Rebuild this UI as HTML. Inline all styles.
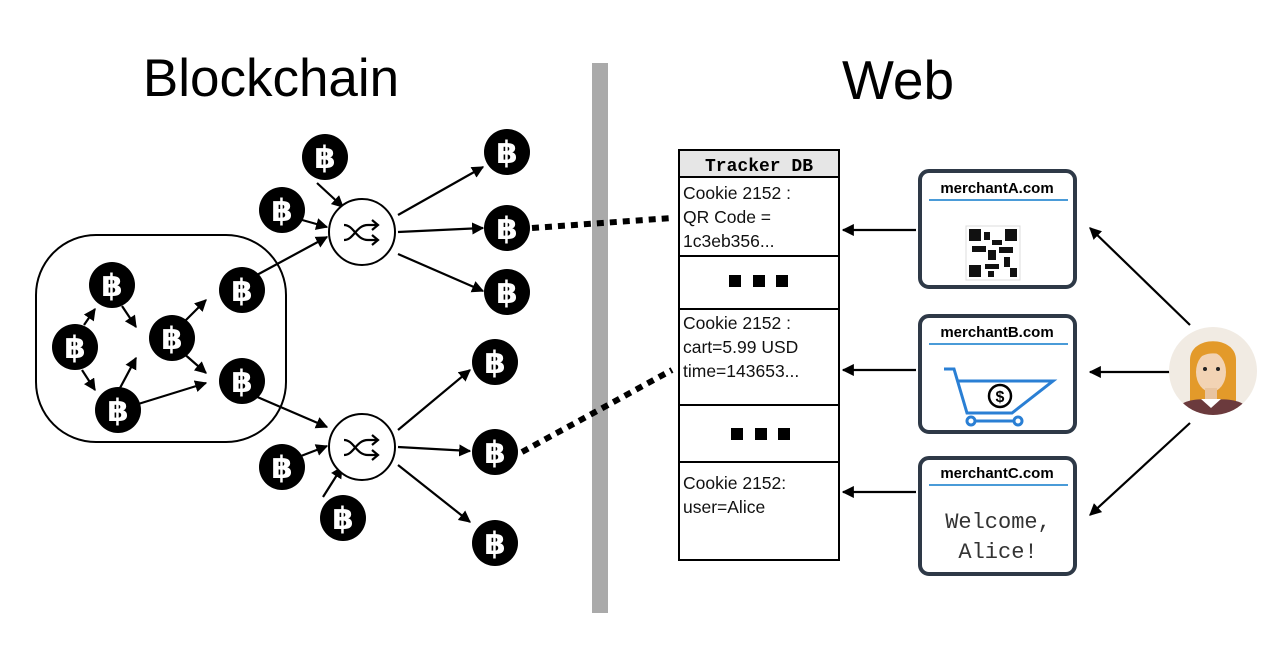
<!DOCTYPE html>
<html><head><meta charset="utf-8"><style>body{margin:0;background:#fff}svg{display:block}</style></head><body>
<svg width="1280" height="645" viewBox="0 0 1280 645" xmlns="http://www.w3.org/2000/svg" font-family="Liberation Sans, sans-serif">
<defs>
<marker id="a" viewBox="0 0 10 10" refX="9" refY="5" markerWidth="5.5" markerHeight="5.5" orient="auto"><path d="M0,0L10,5L0,10z" fill="#000"/></marker>
<g id="b"><circle r="23" fill="#000"/><text y="11" text-anchor="middle" font-family="DejaVu Sans" font-weight="bold" font-size="31" fill="#fff">฿</text></g>
<g id="m"><circle r="33" fill="#fff" stroke="#000" stroke-width="2"/><path d="M-18,-7 C-8,-7 -6,8 6,8 L15,8 M-18,8 C-8,8 -6,-7 6,-7 L15,-7 M10,-12 L16,-7 L10,-2 M10,3 L16,8 L10,13" fill="none" stroke="#000" stroke-width="2.2"/></g>
</defs>
<text x="271" y="96" text-anchor="middle" font-size="53">Blockchain</text>
<text x="898" y="99" text-anchor="middle" font-size="55">Web</text>
<rect x="592" y="63" width="16" height="550" fill="#aaa"/>
<rect x="36" y="235" width="250" height="207" rx="60" fill="none" stroke="#000" stroke-width="2"/>
<g stroke="#000" stroke-width="2.2" marker-end="url(#a)">
<line x1="84" y1="325" x2="95" y2="309"/>
<line x1="122" y1="306" x2="136" y2="327"/>
<line x1="82" y1="370" x2="95" y2="390"/>
<line x1="120" y1="388" x2="136" y2="358"/>
<line x1="182" y1="324" x2="206" y2="300"/>
<line x1="182" y1="352" x2="206" y2="373"/>
<line x1="135" y1="405" x2="206" y2="383"/>
<line x1="255" y1="276" x2="327" y2="237"/>
<line x1="255" y1="396" x2="327" y2="427"/>
<line x1="317" y1="183" x2="343" y2="207"/>
<line x1="288" y1="216" x2="327" y2="227"/>
<line x1="398" y1="215" x2="483" y2="167"/>
<line x1="398" y1="232" x2="483" y2="228"/>
<line x1="398" y1="254" x2="483" y2="291"/>
<line x1="288" y1="461" x2="327" y2="446"/>
<line x1="323" y1="497" x2="342" y2="467"/>
<line x1="398" y1="430" x2="470" y2="370"/>
<line x1="398" y1="447" x2="470" y2="451"/>
<line x1="398" y1="465" x2="470" y2="522"/>
<line x1="916" y1="230" x2="843" y2="230"/>
<line x1="916" y1="370" x2="843" y2="370"/>
<line x1="916" y1="492" x2="843" y2="492"/>
<line x1="1190" y1="325" x2="1090" y2="228"/>
<line x1="1172" y1="372" x2="1090" y2="372"/>
<line x1="1190" y1="423" x2="1090" y2="515"/>
</g>
<g stroke="#000" stroke-width="6" stroke-dasharray="7,6">
<line x1="532" y1="228" x2="672" y2="218"/>
<line x1="522" y1="452" x2="672" y2="370"/>
</g>
<use href="#b" x="112" y="285"/><use href="#b" x="75" y="347"/><use href="#b" x="172" y="338"/>
<use href="#b" x="242" y="290"/><use href="#b" x="242" y="381"/><use href="#b" x="118" y="410"/>
<use href="#b" x="325" y="157"/><use href="#b" x="282" y="210"/>
<use href="#b" x="507" y="152"/><use href="#b" x="507" y="228"/><use href="#b" x="507" y="292"/>
<use href="#b" x="282" y="467"/><use href="#b" x="343" y="518"/>
<use href="#b" x="495" y="362"/><use href="#b" x="495" y="452"/><use href="#b" x="495" y="543"/>
<use href="#m" x="362" y="232"/><use href="#m" x="362" y="447"/>
<g stroke="#000" stroke-width="2">
<rect x="679" y="150" width="160" height="410" fill="#fff"/>
<rect x="679" y="150" width="160" height="27" fill="#e6e6e6"/>
<line x1="679" y1="256" x2="839" y2="256"/><line x1="679" y1="309" x2="839" y2="309"/>
<line x1="679" y1="405" x2="839" y2="405"/><line x1="679" y1="462" x2="839" y2="462"/>
</g>
<text x="759" y="171" text-anchor="middle" font-family="Liberation Mono" font-weight="bold" font-size="18">Tracker DB</text>
<g font-size="17.5" fill="#111">
<text x="683" y="199">Cookie 2152 :</text><text x="683" y="223">QR Code =</text><text x="683" y="247">1c3eb356...</text>
<text x="683" y="329">Cookie 2152 :</text><text x="683" y="353">cart=5.99 USD</text><text x="683" y="377">time=143653...</text>
<text x="683" y="489">Cookie 2152:</text><text x="683" y="513">user=Alice</text>
</g>
<g fill="#000"><rect x="729" y="275" width="12" height="12"/><rect x="753" y="275" width="12" height="12"/><rect x="776" y="275" width="12" height="12"/>
<rect x="731" y="428" width="12" height="12"/><rect x="755" y="428" width="12" height="12"/><rect x="778" y="428" width="12" height="12"/></g>
<g fill="#fff" stroke="#2e3947" stroke-width="4">
<rect x="920" y="171" width="155" height="116" rx="9"/>
<rect x="920" y="316" width="155" height="116" rx="9"/>
<rect x="920" y="458" width="155" height="116" rx="9"/>
</g>
<g font-weight="bold" font-size="15" text-anchor="middle"><text x="997" y="193">merchantA.com</text><text x="997" y="337">merchantB.com</text><text x="997" y="478">merchantC.com</text></g>
<g stroke="#4a9bd8" stroke-width="2"><line x1="929" y1="200" x2="1068" y2="200"/><line x1="929" y1="344" x2="1068" y2="344"/><line x1="929" y1="485" x2="1068" y2="485"/></g>
<rect x="966" y="226" width="54" height="54" fill="#fff" stroke="#ddd"/>
<g fill="#111"><rect x="969" y="229" width="12" height="12"/><rect x="1005" y="229" width="12" height="12"/><rect x="969" y="265" width="12" height="12"/>
<rect x="984" y="232" width="6" height="8"/><rect x="992" y="240" width="10" height="5"/><rect x="972" y="246" width="14" height="6"/><rect x="988" y="250" width="8" height="10"/><rect x="999" y="247" width="14" height="6"/><rect x="1004" y="257" width="6" height="10"/><rect x="985" y="264" width="14" height="5"/><rect x="1010" y="268" width="7" height="9"/><rect x="988" y="271" width="6" height="6"/></g>
<g fill="none" stroke="#2a7fd4" stroke-width="3"><path d="M944,369 L954,369 L967,413 L1012,413 L1053,381 L957,381"/><circle cx="971" cy="421" r="4"/><circle cx="1018" cy="421" r="4"/><line x1="975" y1="421" x2="1014" y2="421"/></g>
<circle cx="1000" cy="396" r="11" fill="#fff" stroke="#000" stroke-width="2.5"/><text x="1000" y="402" text-anchor="middle" font-weight="bold" font-size="16">$</text>
<g font-family="Liberation Mono" font-size="22" fill="#333" text-anchor="middle"><text x="998" y="528">Welcome,</text><text x="998" y="558">Alice!</text></g>
<clipPath id="c"><circle cx="1213" cy="371" r="44"/></clipPath>
<circle cx="1213" cy="371" r="44" fill="#f1ebe3"/>
<g clip-path="url(#c)">
<path d="M1190,405 L1190,360 C1190,335 1236,335 1236,360 L1236,405 Z" fill="#e39a2a"/>
<ellipse cx="1211" cy="372" rx="15" ry="20" fill="#f2d3b4"/>
<path d="M1194,362 C1198,340 1230,340 1234,365 C1224,350 1205,350 1194,362Z" fill="#e39a2a"/>
<rect x="1205" y="388" width="12" height="12" fill="#e8c4a0"/>
<path d="M1170,420 C1175,400 1195,398 1211,400 C1230,398 1250,400 1256,420Z" fill="#6b3a3d"/>
<path d="M1201,399 L1211,408 L1221,399 Z" fill="#fff"/>
<circle cx="1205" cy="369" r="2" fill="#222"/><circle cx="1218" cy="369" r="2" fill="#222"/>
</g>
</svg>
</body></html>
